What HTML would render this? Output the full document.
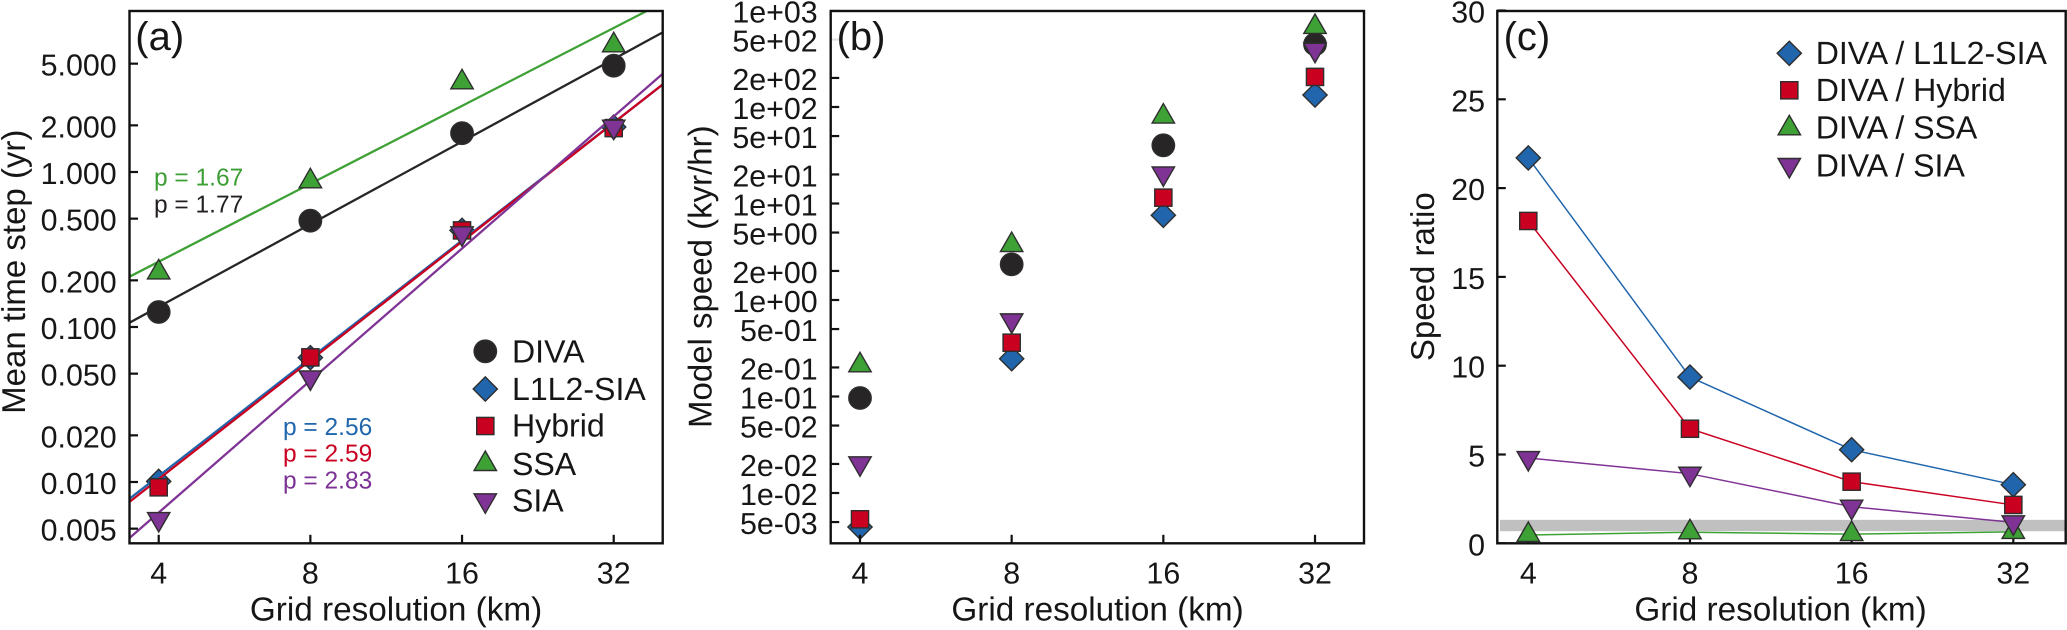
<!DOCTYPE html>
<html lang="en">
<head>
<meta charset="utf-8">
<title>Model performance vs grid resolution</title>
<style>
html,body{margin:0;padding:0;background:#fff;width:2067px;height:630px;overflow:hidden}
svg{display:block}
text{font-family:"Liberation Sans",sans-serif;fill:#161616;text-rendering:geometricPrecision;font-kerning:normal}
.tick{font-size:30.4px}
.title{font-size:33.3px}
.ytitle{font-size:33px}
.legend{font-size:32.1px}
.panel{font-size:40px}
.pval{font-size:24.5px}
</style>
</head>
<body>
<svg id="fig" width="2067" height="630" viewBox="0 0 2067 630" xmlns="http://www.w3.org/2000/svg">
  <defs>
    <clipPath id="clipA"><rect x="129.5" y="11" width="533.2" height="532.3"/></clipPath>
    <clipPath id="clipC"><rect x="1497.3" y="11" width="568.4" height="532.3"/></clipPath>
  </defs>
  <g id="panelA"></g>
  <g id="panelB"></g>
  <g id="panelC"></g>

  <g>
    <text class="panel" x="135.3" y="50">(a)</text>
    <text class="title" x="396" y="620.7" text-anchor="middle">Grid resolution (km)</text>
    <text class="ytitle" transform="translate(25 271.7) rotate(-90)" text-anchor="middle">Mean time step (yr)</text>
    <text class="pval" x="154" y="185.7" style="fill:#3c9e35">p = 1.67</text>
    <text class="pval" x="154" y="212.7" style="fill:#231f20">p = 1.77</text>
    <text class="pval" x="283" y="435" style="fill:#2166ac">p = 2.56</text>
    <text class="pval" x="283" y="461.7" style="fill:#ca0020">p = 2.59</text>
    <text class="pval" x="283" y="488.3" style="fill:#7b3294">p = 2.83</text>
    <text class="legend" x="512" y="362.7">DIVA</text>
    <text class="legend" x="512" y="400">L1L2-SIA</text>
    <text class="legend" x="512" y="436.7">Hybrid</text>
    <text class="legend" x="512" y="475">SSA</text>
    <text class="legend" x="512" y="511.7">SIA</text>
  </g>
  <g>
    <text class="panel" x="836.6" y="50">(b)</text>
    <text class="title" x="1097.5" y="620.7" text-anchor="middle">Grid resolution (km)</text>
    <text class="ytitle" transform="translate(711.7 276.7) rotate(-90)" text-anchor="middle">Model speed (kyr/hr)</text>
  </g>
  <g>
    <text class="panel" x="1503.6" y="50">(c)</text>
    <text class="title" x="1780.5" y="620.7" text-anchor="middle">Grid resolution (km)</text>
    <text class="ytitle" transform="translate(1434 276.7) rotate(-90)" text-anchor="middle">Speed ratio</text>
    <text class="legend" x="1815.7" y="64">DIVA / L1L2-SIA</text>
    <text class="legend" x="1815.7" y="101">DIVA / Hybrid</text>
    <text class="legend" x="1815.7" y="138.7">DIVA / SSA</text>
    <text class="legend" x="1815.7" y="176.3">DIVA / SIA</text>
  </g>
</svg>
<script>
// ---- Shared categories ----
const resolutions = [4, 8, 16, 32];
const xTickLabels = ["4", "8", "16", "32"];

// ---- Panel (a): mean time step (yr) ----
const timeStepDiva = [0.125, 0.485, 1.78, 4.85];
const timeStepL1L2 = [0.0101, 0.0634, 0.42, 1.95];
const timeStepHybrid = [0.00924, 0.0637, 0.42, 1.92];
const timeStepSsa = [0.225, 0.871, 3.79, 6.57];
const timeStepSia = [0.00577, 0.0473, 0.402, 1.96];
const fitAt4kmDiva = 0.135, fitExpDiva = 1.77;
const fitAt4kmL1L2 = 0.01092, fitExpL1L2 = 2.525;
const fitAt4kmHybrid = 0.01045, fitExpHybrid = 2.545;
const fitAt4kmSsa = 0.2638, fitExpSsa = 1.67;
const fitAt4kmSia = 0.00635, fitExpSia = 2.83;
const yTicksA = [5, 2, 1, 0.5, 0.2, 0.1, 0.05, 0.02, 0.01, 0.005];
const yTickLabelsA = ["5.000", "2.000", "1.000", "0.500", "0.200", "0.100", "0.050", "0.020", "0.010", "0.005"];

// ---- Panel (b): model speed (kyr/hr) ----
const speedDiva = [0.0965, 2.34, 40.1, 447];
const speedL1L2 = [0.00444, 0.2465, 7.55, 133];
const speedHybrid = [0.00534, 0.361, 11.5, 205];
const speedSsa = [0.2104, 3.71, 79.6, 675];
const speedSia = [0.0203, 0.615, 20.5, 392];
const yTicksB = [1000, 500, 200, 100, 50, 20, 10, 5, 2, 1, 0.5, 0.2, 0.1, 0.05, 0.02, 0.01, 0.005];
const yTickLabelsB = ["1e+03", "5e+02", "2e+02", "1e+02", "5e+01", "2e+01", "1e+01", "5e+00", "2e+00", "1e+00", "5e-01", "2e-01", "1e-01", "5e-02", "2e-02", "1e-02", "5e-03"];

// ---- Panel (c): speed ratio ----
const ratioL1L2 = [21.7, 9.36, 5.27, 3.3];
const ratioHybrid = [18.15, 6.45, 3.47, 2.16];
const ratioSsa = [0.47, 0.62, 0.52, 0.64];
const ratioSia = [4.8, 3.92, 2.06, 1.18];
const yTicksC = [0, 5, 10, 15, 20, 25, 30];
const yTickLabelsC = ["0", "5", "10", "15", "20", "25", "30"];
const unityBand = [0.68, 1.32];

const COLORS = {diva:"#272526", l1l2:"#2166ac", hybrid:"#ca0020", ssa:"#3ea135", sia:"#7f3394"};
const NS = "http://www.w3.org/2000/svg";

function mk(tag, parent, attrs){
  const el = document.createElementNS(NS, tag);
  for (const k in attrs) el.setAttribute(k, attrs[k]);
  parent.appendChild(el);
  return el;
}
function xScale(x4, step){ return r => x4 + step * Math.log2(r / 4); }
function logScale(y1, decade){ return v => y1 - decade * Math.log10(v); }

function marker(parent, kind, cx, cy, color, name){
  const st = {fill:color, stroke:"#2e2e2e", "stroke-width":1.4, "stroke-linejoin":"miter"};
  let el;
  if (kind === "circle"){
    el = mk("circle", parent, Object.assign({cx:cx, cy:cy, r:11.2}, st));
  } else if (kind === "diamond"){
    const d = 12.1;
    el = mk("polygon", parent, Object.assign({points:[cx,cy-d,cx+d,cy,cx,cy+d,cx-d,cy].join(" ")}, st));
  } else if (kind === "square"){
    const s = 8.6;
    el = mk("rect", parent, Object.assign({x:cx-s, y:cy-s, width:2*s, height:2*s}, st));
  } else if (kind === "up"){
    el = mk("polygon", parent, Object.assign({points:[cx,cy-13,cx+11.2,cy+6.5,cx-11.2,cy+6.5].join(" ")}, st));
  } else {
    el = mk("polygon", parent, Object.assign({points:[cx,cy+13,cx+11.2,cy-6.5,cx-11.2,cy-6.5].join(" ")}, st));
  }
  
  
  return el;
}

function drawFrame(g, left, right, top, bottom, xs, yVals, yLabels, yFn, labelRight, prefix, skipTicks){
  xs.forEach((r, i) => {
    const tx = xScaleFor(prefix)(r);
    const t = mk("line", g, {x1:tx, x2:tx, y1:bottom, y2:bottom-8.5, stroke:"#111", "stroke-width":2.2});
    
    
    const l = mk("text", g, {x:tx, y:583.3, "text-anchor":"middle", class:"tick"});
    l.textContent = xTickLabels[i];
    
    
  });
  yVals.forEach((v, i) => {
    const ty = yFn(v);
    const faint = skipTicks && skipTicks.indexOf(v) >= 0;
    const t = mk("line", g, {x1:left, x2:left+8.5, y1:ty, y2:ty, stroke:faint ? "#e2e2e2" : "#111", "stroke-width":2.2});
    
    
    const l = mk("text", g, {x:labelRight, y:ty+12, "text-anchor":"end", class:"tick"});
    l.textContent = yLabels[i];
    
    
  });
  const f = mk("rect", g, {x:left, y:top, width:right-left, height:bottom-top, fill:"none", stroke:"#111", "stroke-width":2.4});
  
  
}

const xA = xScale(158.7, 151.67);
const xB = xScale(860, 151.67);
const xC = xScale(1528.3, 161.67);
function xScaleFor(p){ return p === "a" ? xA : p === "b" ? xB : xC; }
const yA = logScale(172, 155);
const yB = logScale(300, 96.5);
const yC = v => 543.3 - 17.76 * v;

// ---------- Panel A ----------
const gA = document.getElementById("panelA");
// L1L2 markers sit beneath the fit lines; the other series sit above them.
timeStepL1L2.forEach((v, i) => {
  marker(gA, "diamond", xA(resolutions[i]), yA(v), COLORS.l1l2, 'point-a-l1l2-' + resolutions[i]);
});
const fitG = mk("g", gA, {"clip-path":"url(#clipA)"});


const fits = [
  ["diva", fitAt4kmDiva, fitExpDiva],
  ["l1l2", fitAt4kmL1L2, fitExpL1L2],
  ["hybrid", fitAt4kmHybrid, fitExpHybrid],
  ["ssa", fitAt4kmSsa, fitExpSsa],
  ["sia", fitAt4kmSia, fitExpSia]
];
const resLo = 4 * Math.pow(2, (129.5 - 158.7) / 151.67);
const resHi = 4 * Math.pow(2, (662.7 - 158.7) / 151.67);
fits.forEach(f => {
  const val = r => f[1] * Math.pow(r / 4, f[2]);
  const ln = mk("line", fitG, {x1:xA(resLo), y1:yA(val(resLo)), x2:xA(resHi), y2:yA(val(resHi)), stroke:COLORS[f[0]], "stroke-width":2.3});
  
  
});
const seriesA = [
  ["diva", "circle", timeStepDiva],
  ["hybrid", "square", timeStepHybrid],
  ["ssa", "up", timeStepSsa],
  ["sia", "down", timeStepSia]
];
seriesA.forEach(s => s[2].forEach((v, i) => {
  marker(gA, s[1], xA(resolutions[i]), yA(v), COLORS[s[0]], 'point-a-' + s[0] + '-' + resolutions[i]);
}));
drawFrame(gA, 129.5, 662.7, 11, 543.3, resolutions, yTicksA, yTickLabelsA, yA, 116.7, "a");
marker(gA, "circle", 485.3, 351.3, COLORS.diva, 'legend-marker-diva');
marker(gA, "diamond", 485.3, 389, COLORS.l1l2, 'legend-marker-l1l2-sia');
marker(gA, "square", 485.3, 426, COLORS.hybrid, 'legend-marker-hybrid');
marker(gA, "up", 485.3, 464, COLORS.ssa, 'legend-marker-ssa');
marker(gA, "down", 485.3, 500.3, COLORS.sia, 'legend-marker-sia');

// ---------- Panel B ----------
const gB = document.getElementById("panelB");
const seriesB = [
  ["diva", "circle", speedDiva],
  ["l1l2", "diamond", speedL1L2],
  ["hybrid", "square", speedHybrid],
  ["ssa", "up", speedSsa],
  ["sia", "down", speedSia]
];
seriesB.forEach(s => s[2].forEach((v, i) => {
  marker(gB, s[1], xB(resolutions[i]), yB(v), COLORS[s[0]], 'point-b-' + s[0] + '-' + resolutions[i]);
}));
drawFrame(gB, 830.7, 1364, 11, 543.3, resolutions, yTicksB, yTickLabelsB, yB, 817.7, "b", [500, 1000]);

// ---------- Panel C ----------
const gC = document.getElementById("panelC");
const band = mk("rect", gC, {x:1500, y:yC(unityBand[1]), width:564.5, height:yC(unityBand[0])-yC(unityBand[1]), fill:"#c0c0c0"});


const seriesC = [
  ["l1l2", "diamond", ratioL1L2],
  ["hybrid", "square", ratioHybrid],
  ["ssa", "up", ratioSsa],
  ["sia", "down", ratioSia]
];
const lineG = mk("g", gC, {"clip-path":"url(#clipC)"});


seriesC.forEach(s => {
  const pts = s[2].map((v, i) => xC(resolutions[i]) + "," + yC(v)).join(" ");
  const pl = mk("polyline", lineG, {points:pts, fill:"none", stroke:COLORS[s[0]], "stroke-width":1.5});
  
  
});
drawFrame(gC, 1497.3, 2065.7, 11, 543.3, resolutions, yTicksC, yTickLabelsC, yC, 1485, "c");
seriesC.forEach(s => s[2].forEach((v, i) => {
  marker(gC, s[1], xC(resolutions[i]), yC(v), COLORS[s[0]], 'point-c-' + s[0] + '-' + resolutions[i]);
}));
marker(gC, "diamond", 1789.3, 53.3, COLORS.l1l2, 'legend-marker-diva-l1l2');
marker(gC, "square", 1789.3, 90.3, COLORS.hybrid, 'legend-marker-diva-hybrid');
marker(gC, "up", 1789.3, 128.3, COLORS.ssa, 'legend-marker-diva-ssa');
marker(gC, "down", 1789.3, 165, COLORS.sia, 'legend-marker-diva-sia');
</script>
</body>
</html>
